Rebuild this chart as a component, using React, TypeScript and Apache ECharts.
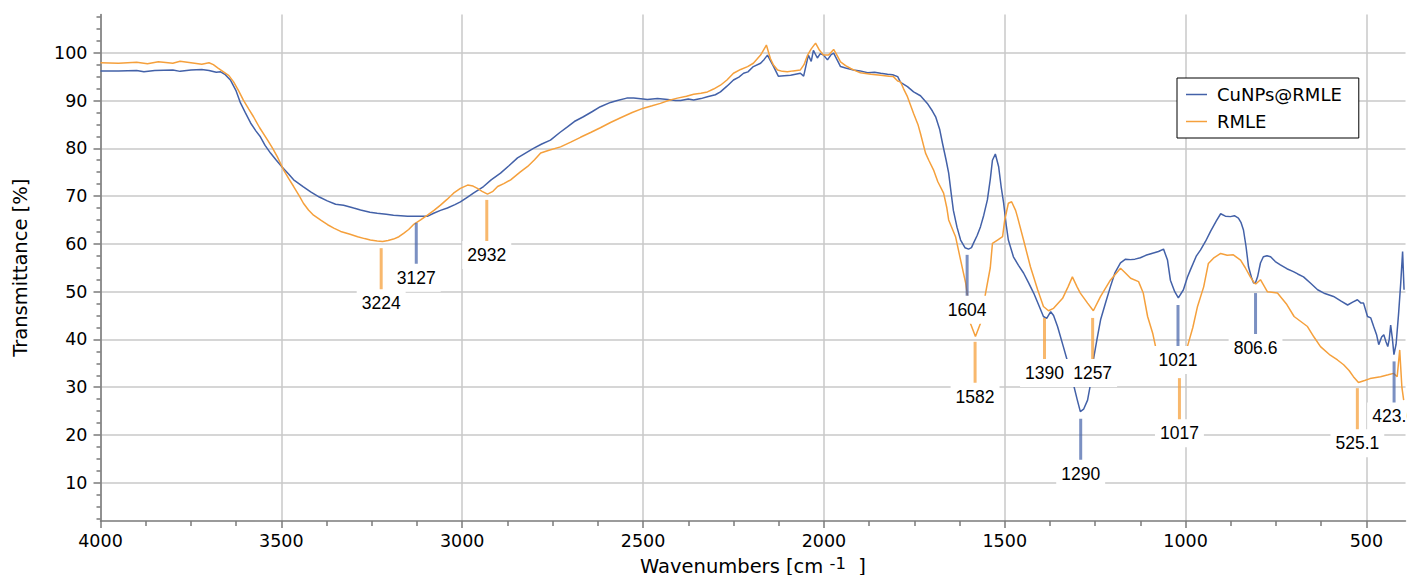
import React, { useEffect, useRef } from 'react';
import * as echarts from 'echarts';

// CuNPs@RMLE (blue)
const blueWn = [4000,3950,3900,3880,3850,3800,3780,3750,3720,3700,3680,3668,3655,3641,3625,3613,3600,3585,3570,3558,3545,3530,3515,3498,3480,3466,3440,3419,3395,3373,3350,3328,3300,3281,3255,3235,3210,3190,3170,3151,3120,3095,3079,3060,3041,3020,3005,2985,2969,2941,2920,2894,2870,2847,2825,2803,2780,2756,2730,2709,2690,2665,2640,2618,2590,2571,2545,2526,2500,2488,2460,2432,2410,2396,2375,2360,2340,2322,2300,2286,2268,2250,2235,2222,2210,2195,2175,2165,2156,2139,2126,2110,2092,2065,2056,2043,2035,2029,2018,2010,2001,1990,1980,1973,1962,1954,1940,1918,1900,1879,1860,1843,1824,1810,1796,1788,1769,1752,1733,1714,1700,1691,1680,1672,1662,1655,1648,1642,1632,1622,1610,1600,1592,1586,1576,1567,1558,1548,1540,1534,1526,1517,1510,1503,1496,1490,1476,1462,1448,1435,1420,1405,1393,1384,1373,1365,1354,1338,1325,1313,1300,1291,1282,1271,1262,1255,1245,1235,1220,1208,1195,1180,1166,1152,1140,1125,1110,1089,1075,1061,1050,1042,1030,1020,1006,995,987,970,959,945,931,915,903,890,876,865,854,847,840,833,826,818,812,806,801,793,785,775,765,752,738,720,702,690,674,655,635,615,591,570,552,538,525,515,508,497,488,480,472,466,458,452,446,441,437,433,428,424,418,411,405,400,396];
const blueT = [96.2,96.2,96.3,96.0,96.3,96.4,96.1,96.4,96.5,96.3,95.9,96.0,95.4,94.3,92.0,89.5,87.5,85.3,83.6,82.4,80.6,79.0,77.6,76.1,74.6,73.4,72.0,70.9,69.8,69.0,68.3,68.1,67.5,67.1,66.6,66.4,66.2,66.0,65.9,65.8,65.8,65.8,66.4,67.0,67.5,68.2,68.8,69.8,70.6,72.0,73.4,74.8,76.4,78.0,79.0,80.0,80.9,81.7,83.3,84.5,85.6,86.6,87.7,88.7,89.6,90.0,90.5,90.5,90.3,90.2,90.4,90.2,90.0,90.0,90.3,90.1,90.4,90.8,91.2,91.8,93.0,94.3,94.9,95.7,96.0,97.1,97.8,98.6,99.5,97.1,95.1,95.2,95.3,95.7,95.1,99.5,98.2,100.5,98.9,99.8,99.5,98.5,99.6,99.9,98.3,97.1,96.8,96.4,96.2,95.8,95.9,95.7,95.5,95.4,95.0,93.8,92.9,91.8,91.0,89.4,87.8,86.6,84.0,81.0,77.5,74.8,70.5,67.0,63.5,60.8,59.2,58.9,59.2,60.2,61.8,63.6,66.0,69.2,73.5,77.5,78.8,76.2,72.0,68.5,64.0,60.8,57.3,55.5,53.9,52.0,49.7,47.0,44.8,44.4,45.8,45.0,42.7,38.5,35.0,31.5,27.5,24.9,25.4,27.3,31.0,35.7,40.0,44.1,48.0,51.0,54.0,56.0,56.8,56.7,56.8,57.1,57.6,58.1,58.4,58.9,56.6,52.4,50.0,48.7,50.4,53.0,54.5,57.5,58.7,60.5,62.6,64.8,66.3,65.8,65.7,65.9,65.4,64.5,62.9,59.5,55.2,53.0,51.8,52.0,53.1,56.0,57.3,57.5,57.3,56.3,55.6,54.8,54.2,53.7,53.1,51.8,50.4,49.6,49.0,48.0,47.2,47.8,48.3,47.6,47.6,44.8,44.5,42.7,41.0,38.9,40.5,41.0,39.5,38.5,40.0,43.0,40.0,36.8,39.0,45.5,52.0,58.4,50.4];

// RMLE (orange)
const orangeWn = [4000,3950,3900,3870,3840,3800,3780,3750,3720,3700,3688,3675,3660,3645,3632,3618,3605,3590,3577,3560,3538,3524,3511,3494,3480,3466,3450,3439,3425,3411,3390,3372,3355,3336,3310,3289,3270,3254,3235,3220,3205,3190,3175,3162,3148,3135,3115,3096,3078,3060,3042,3024,3005,2985,2970,2958,2945,2930,2915,2902,2885,2866,2840,2819,2800,2783,2760,2728,2700,2673,2645,2618,2590,2562,2530,2499,2475,2452,2430,2405,2380,2360,2340,2322,2305,2286,2268,2250,2230,2211,2195,2175,2159,2148,2140,2128,2115,2101,2085,2065,2055,2045,2035,2023,2012,2001,1987,1973,1964,1954,1940,1926,1912,1899,1870,1843,1820,1808,1796,1788,1780,1769,1752,1740,1733,1719,1710,1697,1685,1669,1660,1655,1636,1622,1608,1600,1595,1581,1567,1553,1540,1534,1520,1506,1500,1490,1481,1470,1465,1448,1429,1409,1393,1379,1365,1340,1325,1313,1300,1291,1271,1255,1235,1208,1180,1165,1152,1130,1117,1105,1091,1083,1070,1050,1035,1017,1005,995,980,967,950,937,923,903,885,868,848,835,821,810,806,793,774,746,720,700,663,645,627,600,580,563,548,536,522,505,490,461,440,425,415,408,402,397];
const orangeT = [97.9,97.8,98.0,97.7,98.1,97.8,98.2,97.9,97.6,97.9,97.5,96.8,96.0,95.2,93.9,92.0,90.1,88.2,86.6,84.3,81.7,80.0,78.2,75.5,73.7,72.0,70.0,68.5,67.1,66.0,64.9,64.0,63.3,62.6,62.0,61.5,61.1,60.8,60.6,60.5,60.7,61.0,61.5,62.2,63.0,64.0,65.0,66.0,67.0,68.1,69.3,70.6,71.6,72.3,72.1,71.6,71.0,70.4,71.0,72.0,72.6,73.4,75.0,76.2,77.6,79.0,79.6,80.3,81.3,82.3,83.3,84.3,85.4,86.4,87.5,88.4,88.9,89.4,90.0,90.5,90.9,91.3,91.5,91.8,92.4,93.2,94.3,95.7,96.5,97.1,97.8,99.5,101.6,98.8,97.5,96.4,96.1,96.0,96.2,96.4,97.5,99.5,100.8,102.0,100.5,99.5,99.5,100.7,99.5,98.1,97.3,96.7,96.2,95.8,95.5,95.3,95.1,95.0,94.1,93.9,92.5,90.8,87.3,85.0,83.1,79.0,77.5,75.5,73.0,70.6,67.5,65.0,61.5,56.6,51.8,47.5,43.4,40.6,43.4,49.7,55.0,60.1,60.8,61.5,65.0,68.5,68.8,67.0,65.7,60.8,55.2,50.4,46.9,46.0,46.5,48.6,51.0,53.1,51.0,49.7,47.6,46.0,49.0,52.4,54.9,53.8,52.8,52.1,49.7,44.8,41.3,38.5,36.5,35.5,35.0,34.6,36.0,38.5,42.5,46.9,51.0,55.9,57.0,58.0,57.6,57.7,56.6,55.0,53.1,51.8,51.6,52.5,50.0,49.7,47.3,44.8,42.7,40.5,38.5,36.7,35.7,34.7,33.5,32.2,31.0,31.4,31.8,32.2,32.6,32.9,32.2,37.8,30.0,27.3];

// Peak annotations
const annWn = [3224, 3127, 2932, 1604, 1582, 1390, 1257, 1290, 1021, 1017, 806.6, 525.1, 423.6];
const annLabel = ['3224', '3127', '2932', '1604', '1582', '1390', '1257', '1290', '1021', '1017', '806.6', '525.1', '423.6'];
const annSeries = [1, 0, 1, 0, 1, 1, 1, 0, 0, 1, 0, 1, 0];
const annTop = [59.1, 64.4, 69.2, 57.7, 39.5, 44.5, 44.5, 23.4, 47.2, 31.9, 49.7, 29.8, 35.4];

// Axis ticks
const xMajor = [500, 1000, 1500, 2000, 2500, 3000, 3500, 4000];
const xMinor = [3875, 3750, 3625, 3375, 3250, 3125, 2875, 2750, 2625, 2375, 2250, 2125, 1875, 1750, 1625, 1375, 1250, 1125, 875, 750, 625];
const yMajor = [10, 20, 30, 40, 50, 60, 70, 80, 90, 100];
const yMinor = [2.5, 5, 7.5, 12.5, 15, 17.5, 22.5, 25, 27.5, 32.5, 35, 37.5, 42.5, 45, 47.5, 52.5, 55, 57.5, 62.5, 65, 67.5, 72.5, 75, 77.5, 82.5, 85, 87.5, 92.5, 95, 97.5, 102.5, 105, 107.5];

const BLUE = '#4361a8';
const ORANGE = '#f5a03c';
const BLUE_MARK = 'rgba(67,97,168,0.7)';
const ORANGE_MARK = 'rgba(245,160,60,0.75)';
const AXIS_FONT = '"DejaVu Sans", Verdana, sans-serif';
const ANN_FONT = '"Liberation Sans", Arial, sans-serif';

export default function App() {
  const ref = useRef<HTMLDivElement>(null);
  useEffect(() => {
    if (!ref.current) return;
    const chart = echarts.init(ref.current, undefined, { renderer: 'svg' });
    const X_MIN = 392, X_MAX = 4000, Y_MIN = 2, Y_MAX = 108;
    const tickStyle = { color: '#7a7a7a', width: 1.5 };
    const plain = (v: number) => String(v);
    chart.setOption({
      animation: false,
      backgroundColor: '#fff',
      grid: { left: 100.5, right: 1.5, top: 14.5, bottom: 54, containLabel: false, outerBoundsMode: 'none' },
      legend: {
        data: ['CuNPs@RMLE', 'RMLE'],
        orient: 'vertical',
        left: 1177,
        top: 78,
        icon: 'rect',
        backgroundColor: '#fff',
        borderColor: '#000',
        borderWidth: 1,
        padding: [6, 17, 6, 9],
        itemWidth: 21,
        itemHeight: 1.5,
        itemGap: 6,
        textStyle: { fontFamily: AXIS_FONT, fontSize: 18, color: '#000', padding: [0, 0, 0, 5], lineHeight: 21 },
      },
      xAxis: [
        {
          type: 'value', min: X_MIN, max: X_MAX, inverse: true, position: 'bottom',
          name: 'Wavenumbers [cm {sup|-1}  ]', nameLocation: 'middle', nameGap: 21,
          nameTextStyle: {
            fontFamily: AXIS_FONT, fontSize: 19.5, color: '#000', lineHeight: 22,
            rich: { sup: { fontFamily: AXIS_FONT, fontSize: 16.5, color: '#000', padding: [0, 0, 6, 0] } },
          },
          axisLine: { show: true, lineStyle: { color: '#7a7a7a', width: 1.5 } },
          axisTick: { show: true, inside: false, length: 7, customValues: xMajor, lineStyle: tickStyle },
          axisLabel: { customValues: xMajor, formatter: plain, fontFamily: AXIS_FONT, fontSize: 17.5, color: '#000', margin: 11 },
          splitLine: { show: true, lineStyle: { color: '#c8c8c8', width: 1.5 } },
        },
        {
          type: 'value', min: X_MIN, max: X_MAX, inverse: true, position: 'bottom', gridIndex: 0,
          axisLine: { show: false },
          axisTick: { show: true, inside: false, length: 5, customValues: xMinor, lineStyle: tickStyle },
          axisLabel: { show: false },
          splitLine: { show: false },
        },
      ],
      yAxis: [
        {
          type: 'value', min: Y_MIN, max: Y_MAX, position: 'left',
          name: 'Transmittance [%]', nameLocation: 'middle', nameGap: 70,
          nameTextStyle: { fontFamily: AXIS_FONT, fontSize: 19.5, color: '#000' },
          axisLine: { show: true, lineStyle: { color: '#7a7a7a', width: 1.5 } },
          axisTick: { show: true, inside: false, length: 7, customValues: yMajor, lineStyle: tickStyle },
          axisLabel: { customValues: yMajor, formatter: plain, fontFamily: AXIS_FONT, fontSize: 17.5, color: '#000', margin: 13 },
          splitLine: { show: true, lineStyle: { color: '#c8c8c8', width: 1.5 } },
        },
        {
          type: 'value', min: Y_MIN, max: Y_MAX, position: 'left', gridIndex: 0,
          axisLine: { show: false },
          axisTick: { show: true, inside: false, length: 4, customValues: yMinor, lineStyle: tickStyle },
          axisLabel: { show: false },
          splitLine: { show: false },
        },
      ],
      series: [
        {
          name: 'CuNPs@RMLE', type: 'line', xAxisIndex: 0, yAxisIndex: 0,
          data: blueWn.map((w, i) => [w, blueT[i]]),
          symbol: 'none', showSymbol: false,
          lineStyle: { color: BLUE, width: 1.5 }, itemStyle: { color: BLUE }, z: 3,
        },
        {
          name: 'RMLE', type: 'line', xAxisIndex: 0, yAxisIndex: 0,
          data: orangeWn.map((w, i) => [w, orangeT[i]]),
          symbol: 'none', showSymbol: false,
          lineStyle: { color: ORANGE, width: 1.5 }, itemStyle: { color: ORANGE }, z: 4,
        },
        {
          type: 'custom', xAxisIndex: 0, yAxisIndex: 0, z: 10, silent: true,
          data: annWn.map((w, i) => [w, annTop[i]]),
          encode: { x: 0, y: 1 },
          renderItem: (params: any, api: any) => {
            const i = params.dataIndex;
            const p = api.coord([api.value(0), api.value(1)]);
            const col = annSeries[i] === 0 ? BLUE_MARK : ORANGE_MARK;
            return {
              type: 'group',
              children: [
                { type: 'line', shape: { x1: p[0], y1: p[1], x2: p[0], y2: p[1] + 42 }, style: { stroke: col, lineWidth: 3 } },
                {
                  type: 'text', x: p[0], y: p[1] + 55, z2: 5,
                  style: {
                    text: annLabel[i], fill: '#000', font: '17.5px ' + ANN_FONT,
                    align: 'center', verticalAlign: 'middle',
                    backgroundColor: '#fff', padding: [5, 5],
                  },
                },
              ],
            };
          },
        },
      ],
    });
    return () => chart.dispose();
  }, []);
  return <div ref={ref} style={{ position: 'absolute', left: 0, top: 0, width: 1407, height: 575 }} />;
}
